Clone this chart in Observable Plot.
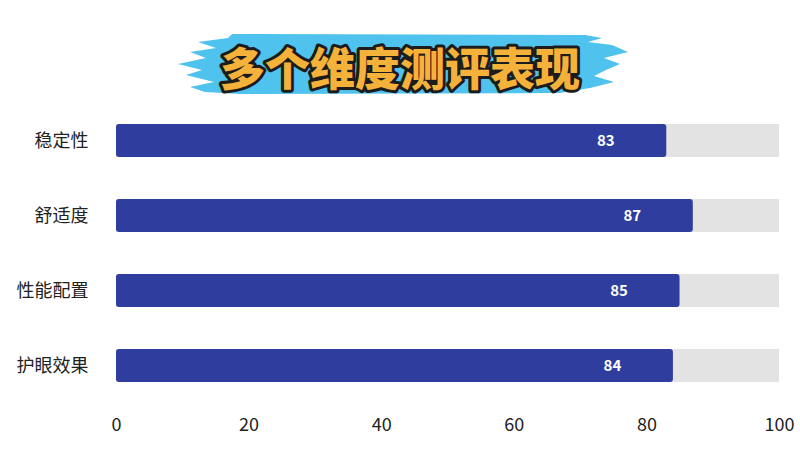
<!DOCTYPE html>
<html><head><meta charset="utf-8">
<script src="https://cdn.jsdelivr.net/npm/d3@7"></script>
<script src="https://cdn.jsdelivr.net/npm/@observablehq/plot@0.6"></script>
<style>
html,body{margin:0;padding:0;background:#fff;width:800px;height:450px;overflow:hidden;font-family:"Noto Sans CJK SC","Noto Sans",sans-serif;}
#title{position:relative;width:800px;height:100px;}
#title svg{position:absolute;left:0;top:0;}
</style></head>
<body>
<div id="title">
<svg width="800" height="100">
<path d="M 232 34 L 585 35 L 602 38 L 588 42 L 612 45 L 628 52 L 604 58 L 620 64 L 606 70 L 594 76 L 614 82 L 590 88 L 560 93 L 240 94 L 205 92 L 190 87 L 214 82 L 186 75 L 202 70 L 178 64 L 206 58 L 190 52 L 216 48 L 198 42 L 228 38 Z" fill="#4fc2ee"/>
<text x="400" y="66" text-anchor="middle" dominant-baseline="central" font-family="Noto Sans CJK SC" font-weight="900" font-size="45" fill="#f4b23a" stroke="#1c1c1c" stroke-width="6" paint-order="stroke" stroke-linejoin="round">多个维度测评表现</text>
</svg>
</div>
<div id="chart"></div>
<script>
const categories = ["稳定性", "舒适度", "性能配置", "护眼效果"];
const values = [83, 87, 85, 84];
const maxValue = 100;
const xTicks = [0, 20, 40, 60, 80, 100];

const data = categories.map((c, i) => ({category: c, value: values[i], max: maxValue}));

const chart = Plot.plot({
  width: 800,
  height: 350,
  marginLeft: 116,
  marginRight: 21,
  marginTop: 1,
  marginBottom: 46,
  style: {fontFamily: "Noto Sans CJK SC, Noto Sans, sans-serif", color: "#222", background: "#fff"},
  x: {domain: [0, 100], ticks: xTicks, label: null},
  y: {domain: categories, paddingInner: 0.56, paddingOuter: 0.3, label: null},
  marks: [
    Plot.barX(data, {y: "category", x: "max", fill: "#e3e3e3"}),
    Plot.barX(data, {y: "category", x: "value", fill: "#2f3e9e", rx: 3}),
    Plot.text(data, {y: "category", x: "value", text: d => String(d.value), dx: -61, fill: "#fff", fontWeight: "bold", fontSize: 15}),
    Plot.axisX({ticks: xTicks, tickSize: 0, tickPadding: 14, fontSize: 18, fill: "#222"}),
    Plot.axisY({tickSize: 0, tickPadding: 28, fontSize: 18, fill: "#222"})
  ]
});
document.getElementById("chart").appendChild(chart);
</script>
</body></html>
